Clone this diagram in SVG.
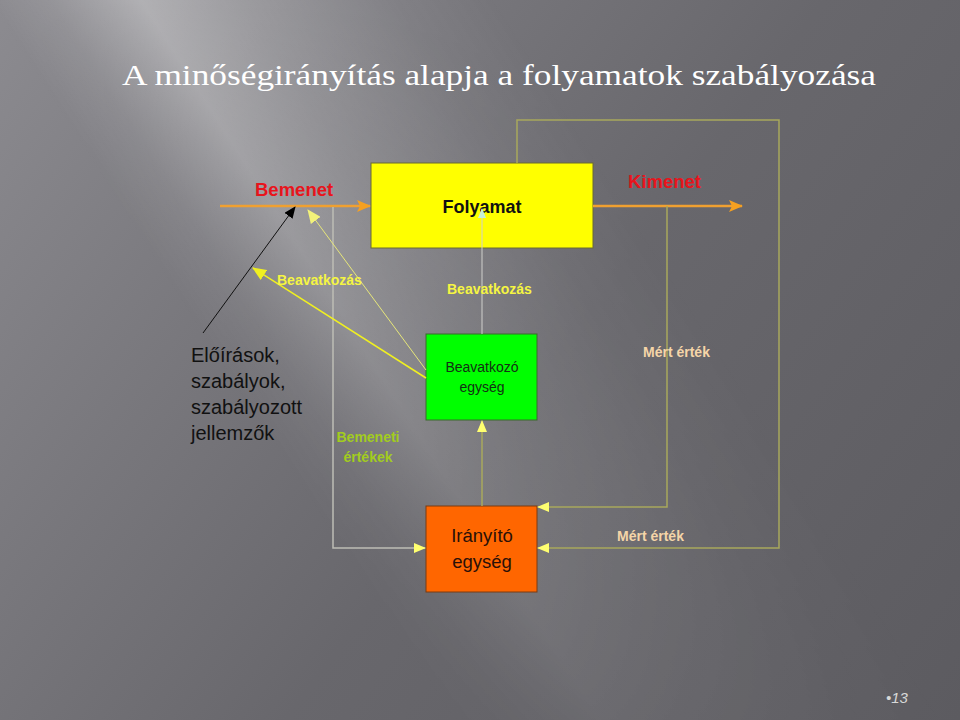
<svg xmlns="http://www.w3.org/2000/svg" width="960" height="720" viewBox="0 0 960 720">
<defs>
<linearGradient id="bg" gradientUnits="userSpaceOnUse" x1="0" y1="0" x2="960" y2="720">
<stop offset="0" stop-color="#8c8b90"/>
<stop offset="0.3" stop-color="#78777c"/>
<stop offset="0.55" stop-color="#68676c"/>
<stop offset="1" stop-color="#5c5b60"/>
</linearGradient>
<linearGradient id="band" gradientUnits="userSpaceOnUse" x1="40" y1="80" x2="400" y2="-150">
<stop offset="0" stop-color="#ffffff" stop-opacity="0"/>
<stop offset="0.12" stop-color="#ffffff" stop-opacity="0.1"/>
<stop offset="0.3" stop-color="#ffffff" stop-opacity="0.36"/>
<stop offset="0.5" stop-color="#ffffff" stop-opacity="0.22"/>
<stop offset="0.8" stop-color="#ffffff" stop-opacity="0.06"/>
<stop offset="1" stop-color="#ffffff" stop-opacity="0"/>
</linearGradient>
<linearGradient id="fade" gradientUnits="userSpaceOnUse" x1="0" y1="0" x2="0" y2="720">
<stop offset="0" stop-color="#ffffff"/>
<stop offset="0.55" stop-color="#8a8a8a"/>
<stop offset="1" stop-color="#2a2a2a"/>
</linearGradient>
<mask id="m"><rect x="0" y="0" width="960" height="720" fill="url(#fade)"/></mask>
<marker id="aOr" markerUnits="userSpaceOnUse" markerWidth="14" markerHeight="12" refX="13" refY="6" orient="auto"><path d="M0,0 L14,6 L0,12 L3,6 Z" fill="#f5a020"/></marker>
<marker id="aKh" markerUnits="userSpaceOnUse" markerWidth="12" markerHeight="10" refX="11" refY="5" orient="auto"><path d="M0,0 L12,5 L0,10 Z" fill="#ffff70"/></marker>
<marker id="aBk" markerUnits="userSpaceOnUse" markerWidth="12" markerHeight="10" refX="11" refY="5" orient="auto"><path d="M0,0 L12,5 L0,10 Z" fill="#000"/></marker>
<marker id="aYe" markerUnits="userSpaceOnUse" markerWidth="14" markerHeight="12" refX="13" refY="6" orient="auto"><path d="M0,0 L14,6 L0,12 Z" fill="#f0f020"/></marker>
<marker id="aPale" markerUnits="userSpaceOnUse" markerWidth="14" markerHeight="12" refX="13" refY="6" orient="auto"><path d="M0,0 L14,6 L0,12 Z" fill="#f2f27a"/></marker>
<marker id="aCy" markerUnits="userSpaceOnUse" markerWidth="10" markerHeight="8" refX="9" refY="4" orient="auto"><path d="M0,0 L10,4 L0,8 Z" fill="#c8f0d8"/></marker>
</defs>
<style>
.sans{font-family:"Liberation Sans",Arial,sans-serif}
.b{font-weight:bold}
.kh{fill:none;stroke:#a8a85c;stroke-width:1.5}
.gr{fill:none;stroke:#bdbdb5;stroke-width:1.5}
.or{fill:none;stroke:#f0a030;stroke-width:2.5}
.lab{font-size:14px;font-weight:bold;font-family:"Liberation Sans",Arial,sans-serif}
</style>
<rect x="0" y="0" width="960" height="720" fill="url(#bg)"/>
<g mask="url(#m)"><rect x="0" y="0" width="960" height="720" fill="url(#band)"/></g>
<text x="122" y="85" font-family="'Liberation Serif','Times New Roman',serif" font-size="30" fill="#ffffff" textLength="754" lengthAdjust="spacingAndGlyphs">A minőségirányítás alapja a folyamatok szabályozása</text>

<g id="folyamat">
<rect x="371" y="163" width="222" height="85" fill="#ffff00" stroke="#6b6b30" stroke-width="1"/>
<text x="482" y="213" text-anchor="middle" class="sans b" font-size="18" fill="#111">Folyamat</text>
</g>
<g id="beavatkozo">
<rect x="426" y="334" width="111" height="86" fill="#00ff00" stroke="#3a6a2a" stroke-width="1"/>
<text x="482" y="372" text-anchor="middle" class="sans" font-size="14" fill="#143014">Beavatkozó</text>
<text x="482" y="392" text-anchor="middle" class="sans" font-size="14" fill="#143014">egység</text>
</g>
<g id="iranyito">
<rect x="426" y="506" width="111" height="86" fill="#ff6600" stroke="#7a3a10" stroke-width="1"/>
<text x="482" y="542" text-anchor="middle" class="sans" font-size="18.5" fill="#2a1008">Irányító</text>
<text x="482" y="568" text-anchor="middle" class="sans" font-size="18.5" fill="#2a1008">egység</text>
</g>
<g id="eloirasok">
<text class="sans" font-size="20" fill="#111"><tspan x="191" y="362">Előírások,</tspan><tspan x="191" y="388">szabályok,</tspan><tspan x="191" y="414">szabályozott</tspan><tspan x="191" y="440">jellemzők</tspan></text>
</g>

<g id="connectors">
<path class="or" d="M220,206 H370" marker-end="url(#aOr)"/>
<path class="or" d="M593,206 H742" marker-end="url(#aOr)"/>
<path class="kh" d="M517,163 V120 H779 V548 H538" marker-end="url(#aKh)"/>
<path class="kh" d="M667,206 V507 H538" marker-end="url(#aKh)"/>
<path class="kh" d="M482,506 V421" marker-end="url(#aKh)"/>
<path class="gr" d="M333,207 V548 H425" marker-end="url(#aKh)"/>
<path fill="none" stroke="#d0d0cc" stroke-width="1" d="M482,334 V209" marker-end="url(#aCy)"/>
<path fill="none" stroke="#111" stroke-width="1" d="M203,333 L295,207" marker-end="url(#aBk)"/>
<path fill="none" stroke="#f0f020" stroke-width="1.5" d="M426,378 L253,268" marker-end="url(#aYe)"/>
<path fill="none" stroke="#e6e67a" stroke-width="1" d="M426,370 L308,210" marker-end="url(#aPale)"/>
</g>

<g id="labels">
<text x="255" y="196" class="sans b" font-size="18.5" fill="#e8141c">Bemenet</text>
<text x="628" y="188" class="sans b" font-size="18.5" fill="#e8141c">Kimenet</text>
<text x="277" y="285" class="lab" fill="#f5f542">Beavatkozás</text>
<text x="447" y="294" class="lab" fill="#f5f542">Beavatkozás</text>
<text x="368" y="442" text-anchor="middle" class="lab" fill="#a2cc1e">Bemeneti</text>
<text x="368" y="462" text-anchor="middle" class="lab" fill="#a2cc1e">értékek</text>
<text x="643" y="357" class="lab" fill="#f5d5a8">Mért érték</text>
<text x="617" y="541" class="lab" fill="#f5d5a8">Mért érték</text>
</g>
<text x="886" y="703" class="sans" font-size="15" font-style="italic" fill="#d8d8d8">•13</text>
</svg>
